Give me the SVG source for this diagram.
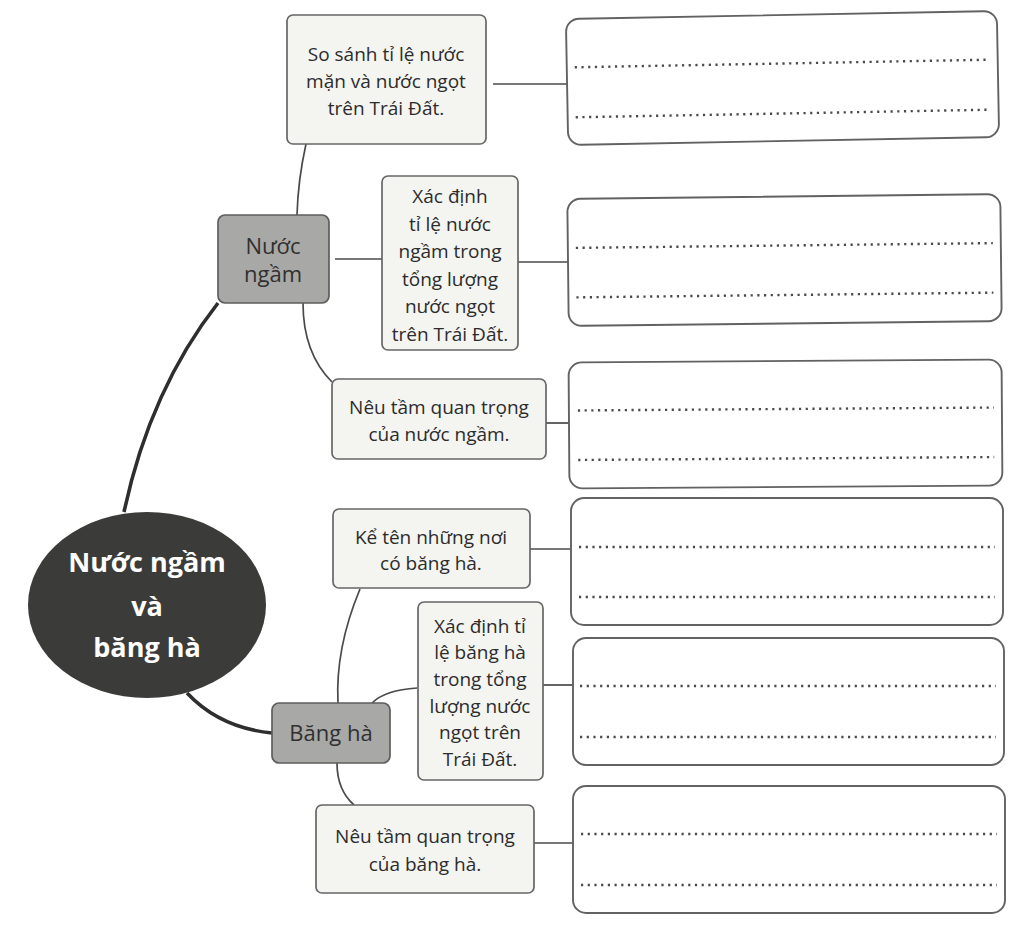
<svg xmlns="http://www.w3.org/2000/svg" width="1027" height="929" viewBox="0 0 1027 929">
<style>
.task{fill:#f4f4f1;stroke:#666;stroke-width:1.7}
.gray{fill:#a8a8a6;stroke:#5e5e5e;stroke-width:1.7}
.ans{fill:#fff;stroke:#626262;stroke-width:1.9}
.dots{stroke:#4a4a4a;stroke-width:2.4;stroke-dasharray:2.2 4.5;fill:none}
.t{font-family:"Open Sans","Noto Sans",sans-serif;font-size:19px;font-weight:500;fill:#2c2c2c;text-anchor:middle}
.g{font-family:"Open Sans","Noto Sans",sans-serif;font-size:22px;font-weight:500;fill:#303030;text-anchor:middle}
.c{font-family:"Open Sans","Noto Sans",sans-serif;font-size:27px;font-weight:bold;fill:#fff;text-anchor:middle}
.thin{fill:none;stroke:#4a4a4a;stroke-width:1.7}
.thick{fill:none;stroke:#2e2e2e;stroke-width:3.6}
</style>
<rect width="1027" height="929" fill="#fff"/>
<g id="connectors">
<path class="thick" d="M218,303 Q150,390 124,512"/>
<path class="thick" d="M187,693 Q220,728 272,733"/>
<path class="thin" d="M306,144 Q298,180 297,215"/>
<path class="thin" d="M335,259 L382,259"/>
<path class="thin" d="M303,303 C303,340 315,365 332,382"/>
<path class="thin" d="M360,589 C345,625 336,665 338,703"/>
<path class="thin" d="M372,703 Q385,690 417,688"/>
<path class="thin" d="M337,763 C337,785 345,797 354,805"/>
<path class="thin" d="M493,84 L567,84"/>
<path class="thin" d="M518,262 L568,262"/>
<path class="thin" d="M546,423 L569,423"/>
<path class="thin" d="M530,549 L571,549"/>
<path class="thin" d="M543,685 L573,685"/>
<path class="thin" d="M534,843 L573,843"/>
</g>
<g id="center">
<ellipse cx="147" cy="605" rx="119" ry="93" fill="#3b3b39"/>
<text class="c" x="147" y="572">Nước ngầm</text>
<text class="c" x="147" y="616">và</text>
<text class="c" x="147" y="657">băng hà</text>
</g>
<g id="nuoc-ngam">
<rect class="gray" x="218" y="215" width="111" height="88" rx="7"/>
<text class="g" x="273" y="254">Nước</text>
<text class="g" x="273" y="282">ngầm</text>
</g>
<g id="bang-ha">
<rect class="gray" x="272" y="703" width="118" height="60" rx="7"/>
<text class="g" x="331" y="741">Băng hà</text>
</g>
<g id="task1">
<rect class="task" x="287" y="15" width="199" height="129" rx="6"/>
<text class="t" x="386" y="61">So sánh tỉ lệ nước</text>
<text class="t" x="386" y="88">mặn và nước ngọt</text>
<text class="t" x="386" y="115">trên Trái Đất.</text>
</g>
<g id="task2">
<rect class="task" x="382" y="176" width="136" height="174" rx="6"/>
<text class="t" x="450" y="203">Xác định</text>
<text class="t" x="450" y="231">tỉ lệ nước</text>
<text class="t" x="450" y="258">ngầm trong</text>
<text class="t" x="450" y="286">tổng lượng</text>
<text class="t" x="450" y="313">nước ngọt</text>
<text class="t" x="450" y="341">trên Trái Đất.</text>
</g>
<g id="task3">
<rect class="task" x="332" y="379" width="214" height="80" rx="6"/>
<text class="t" x="439" y="414">Nêu tầm quan trọng</text>
<text class="t" x="439" y="441">của nước ngầm.</text>
</g>
<g id="task4">
<rect class="task" x="333" y="509" width="197" height="79" rx="6"/>
<text class="t" x="431" y="544">Kể tên những nơi</text>
<text class="t" x="431" y="570">có băng hà.</text>
</g>
<g id="task5">
<rect class="task" x="418" y="602" width="125" height="178" rx="6"/>
<text class="t" x="480" y="633">Xác định tỉ</text>
<text class="t" x="480" y="659">lệ băng hà</text>
<text class="t" x="480" y="686">trong tổng</text>
<text class="t" x="480" y="713">lượng nước</text>
<text class="t" x="480" y="739">ngọt trên</text>
<text class="t" x="480" y="766">Trái Đất.</text>
</g>
<g id="task6">
<rect class="task" x="316" y="805" width="218" height="88" rx="6"/>
<text class="t" x="425" y="843">Nêu tầm quan trọng</text>
<text class="t" x="425" y="871">của băng hà.</text>
</g>
<g id="answer1" transform="rotate(-1.05 782.5 78)">
<rect class="ans" x="567" y="15" width="431" height="126" rx="13"/>
<line class="dots" x1="575" y1="63.5" x2="990" y2="63.5"/>
<line class="dots" x1="575" y1="113.5" x2="990" y2="113.5"/>
</g>
<g id="answer2" transform="rotate(-0.65 784.5 260)">
<rect class="ans" x="568" y="196.5" width="433" height="127" rx="13"/>
<line class="dots" x1="576" y1="245.5" x2="993" y2="245.5"/>
<line class="dots" x1="576" y1="295" x2="993" y2="295"/>
</g>
<g id="answer3" transform="rotate(-0.4 785.5 424)">
<rect class="ans" x="569" y="361" width="433" height="126" rx="13"/>
<line class="dots" x1="578" y1="409" x2="994" y2="409"/>
<line class="dots" x1="578" y1="458.5" x2="994" y2="458.5"/>
</g>
<g id="answer4">
<rect class="ans" x="571" y="498" width="432" height="127" rx="13"/>
<line class="dots" x1="579" y1="547" x2="995" y2="547"/>
<line class="dots" x1="579" y1="597" x2="995" y2="597"/>
</g>
<g id="answer5">
<rect class="ans" x="573" y="638" width="431" height="127" rx="13"/>
<line class="dots" x1="580" y1="686" x2="996" y2="686"/>
<line class="dots" x1="580" y1="737" x2="996" y2="737"/>
</g>
<g id="answer6">
<rect class="ans" x="573" y="786" width="432" height="127" rx="13"/>
<line class="dots" x1="581" y1="834" x2="997" y2="834"/>
<line class="dots" x1="581" y1="885" x2="997" y2="885"/>
</g>
</svg>
